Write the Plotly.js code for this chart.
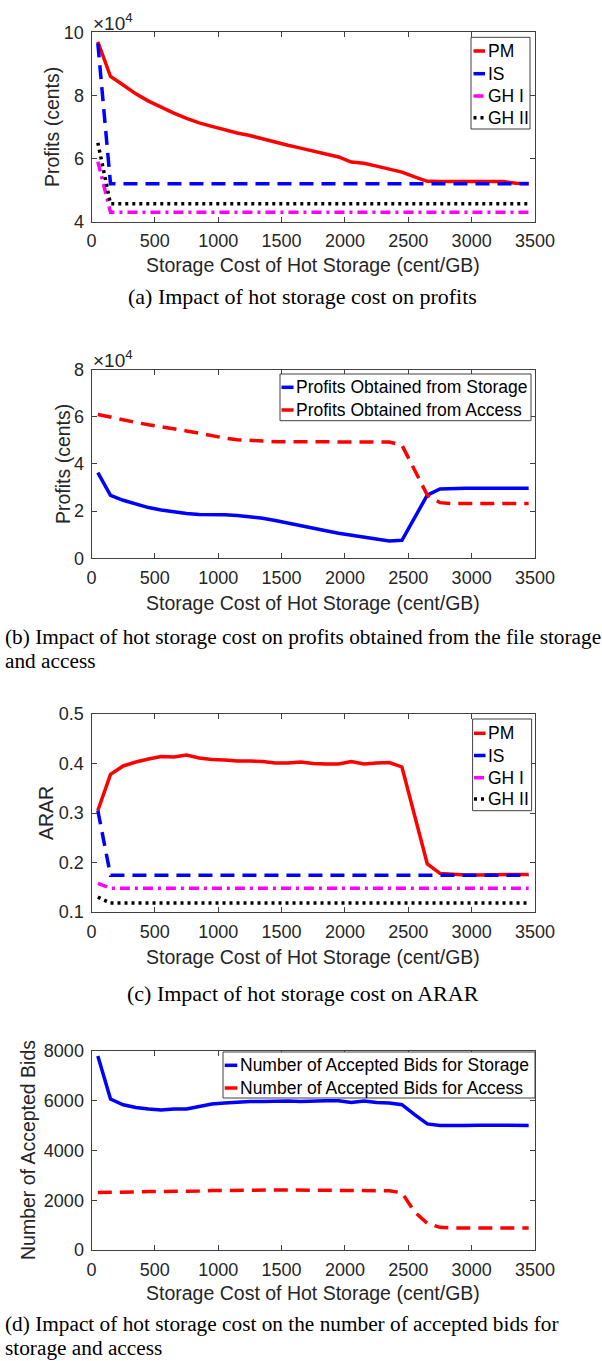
<!DOCTYPE html>
<html>
<head>
<meta charset="utf-8">
<script src="https://cdn.plot.ly/plotly-3.0.1.min.js"></script>
<style>html,body{margin:0;padding:0;background:#fff;}</style>
</head>
<body>
<div id="chart" style="width:602px;height:1361px;"></div>
<script>
// ---- data ----
const hotStorageCost = [50,150,250,350,450,550,650,750,850,950,1050,1150,1250,1350,1450,1550,1650,1750,1850,1950,2050,2150,2250,2350,2450,2550,2650,2750,2850,2950,3050,3150,3250,3350,3450];

// (a) profits (cents)
const profitPM   = [97000,86000,83300,80500,78200,76200,74400,72700,71300,70200,69100,68100,67300,66200,65100,64200,63300,62400,61400,60500,58900,58500,57600,56700,55700,54200,52800,52700,52700,52700,52800,52700,52700,52200,52100];
const profitIS   = [96500,52000,52000,52000,52000,52000,52000,52000,52000,52000,52000,52000,52000,52000,52000,52000,52000,52000,52000,52000,52000,52000,52000,52000,52000,52000,52000,52000,52000,52000,52000,52000,52000,52000,52000];
const profitGH1  = [59000,43000,43000,43000,43000,43000,43000,43000,43000,43000,43000,43000,43000,43000,43000,43000,43000,43000,43000,43000,43000,43000,43000,43000,43000,43000,43000,43000,43000,43000,43000,43000,43000,43000,43000];
const profitGH2  = [65000,45700,45700,45700,45700,45700,45700,45700,45700,45700,45700,45700,45700,45700,45700,45700,45700,45700,45700,45700,45700,45700,45700,45700,45700,45700,45700,45700,45700,45700,45700,45700,45700,45700,45700];

// (b) profits from storage / access (cents)
const profitStorage = [36300,26700,24600,23000,21500,20500,19700,19000,18600,18600,18500,18100,17600,17000,16000,15000,13800,12700,11700,10600,9700,8900,8000,7300,7600,17000,26800,29400,29700,29700,29700,29700,29700,29700,29700];
const profitAccess  = [61000,59800,58600,57600,56600,55800,54800,54000,53000,51900,51000,50300,50000,49600,49400,49400,49400,49400,49400,49300,49300,49300,49300,49300,48000,37500,26800,23600,23200,23200,23200,23200,23200,23200,23200];

// (c) ARAR
const ararPM  = [0.305,0.378,0.395,0.403,0.409,0.414,0.413,0.417,0.411,0.408,0.407,0.405,0.405,0.404,0.401,0.401,0.403,0.400,0.399,0.399,0.404,0.399,0.401,0.402,0.393,0.298,0.197,0.178,0.176,0.175,0.175,0.175,0.175,0.175,0.176];
const ararIS  = [0.305,0.174,0.174,0.174,0.174,0.174,0.174,0.174,0.174,0.174,0.174,0.174,0.174,0.174,0.174,0.174,0.174,0.174,0.174,0.174,0.174,0.174,0.174,0.174,0.174,0.174,0.174,0.174,0.174,0.174,0.174,0.174,0.174,0.174,0.174];
const ararGH1 = [0.158,0.148,0.148,0.148,0.148,0.148,0.148,0.148,0.148,0.148,0.148,0.148,0.148,0.148,0.148,0.148,0.148,0.148,0.148,0.148,0.148,0.148,0.148,0.148,0.148,0.148,0.148,0.148,0.148,0.148,0.148,0.148,0.148,0.148,0.148];
const ararGH2 = [0.130,0.118,0.118,0.118,0.118,0.118,0.118,0.118,0.118,0.118,0.118,0.118,0.118,0.118,0.118,0.118,0.118,0.118,0.118,0.118,0.118,0.118,0.118,0.118,0.118,0.118,0.118,0.118,0.118,0.118,0.118,0.118,0.118,0.118,0.118];

// (d) number of accepted bids
const bidsStorage = [7800,6070,5840,5730,5670,5630,5670,5670,5770,5870,5910,5950,5970,5970,5990,5990,5970,6000,6000,6000,5930,5990,5930,5910,5840,5440,5070,5010,5000,5000,5020,5010,5010,5010,5010];
const bidsAccess  = [2310,2310,2320,2330,2350,2350,2360,2360,2370,2390,2400,2410,2410,2410,2410,2410,2410,2410,2410,2410,2410,2400,2400,2380,2300,1530,1070,910,880,880,880,880,880,880,880];

// labels
const xTitle = "Storage Cost of Hot Storage (cent/GB)";
const xTicks = [0,500,1000,1500,2000,2500,3000,3500];
const namesA = ["PM","IS","GH I","GH II"];
const namesB = ["Profits Obtained from Storage","Profits Obtained from Access"];
const namesD = ["Number of Accepted Bids for Storage","Number of Accepted Bids for Access"];
const captions = [
  "(a) Impact of hot storage cost on profits",
  "(b) Impact of hot storage cost on profits obtained from the file storage",
  "and access",
  "(c) Impact of hot storage cost on ARAR",
  "(d) Impact of hot storage cost on the number of accepted bids for",
  "storage and access"
];

// ---- styles ----
const RED = "#ff0000", BLUE = "#0000ff", MAG = "#ff00ff", BLK = "#000000";
const LW = 3.5;
const DASH = "14px,8px", DASHDOT = "10px,5px,3px,5px", DOT = "3px,4px";
const AX = "#404040", TXT = "#262626";
const SANS = "Liberation Sans, Arial, sans-serif";
const SERIF = "Liberation Serif, Times New Roman, serif";

const H = 1361, W = 602;
const py = p => 1 - p / H;   // pixel row -> paper y
const px = p => p / W;       // pixel col -> paper x
const XDOM = [px(91.5), px(535)];

function tr(y, name, color, dash, n) {
  return {
    x: hotStorageCost, y: y, name: name, type: "scatter", mode: "lines",
    line: {color: color, width: LW, dash: dash},
    xaxis: "x" + (n === 1 ? "" : n), yaxis: "y" + (n === 1 ? "" : n),
    showlegend: false
  };
}

const data = [
  tr(profitPM, namesA[0], RED, "solid", 1),
  tr(profitIS, namesA[1], BLUE, DASH, 1),
  tr(profitGH1, namesA[2], MAG, DASHDOT, 1),
  tr(profitGH2, namesA[3], BLK, DOT, 1),
  tr(profitStorage, namesB[0], BLUE, "solid", 2),
  tr(profitAccess, namesB[1], RED, DASH, 2),
  tr(ararPM, namesA[0], RED, "solid", 3),
  tr(ararIS, namesA[1], BLUE, DASH, 3),
  tr(ararGH1, namesA[2], MAG, DASHDOT, 3),
  tr(ararGH2, namesA[3], BLK, DOT, 3),
  tr(bidsStorage, namesD[0], BLUE, "solid", 4),
  tr(bidsAccess, namesD[1], RED, DASH, 4)
];

function xa(anchor) {
  return {
    domain: XDOM, anchor: anchor, range: [0, 3500], tickmode: "array", tickvals: xTicks,
    ticks: "inside", ticklen: 5, tickwidth: 1, tickcolor: AX, mirror: "ticks",
    showline: true, linecolor: AX, linewidth: 1, showgrid: false, zeroline: false,
    tickfont: {family: SANS, size: 18, color: TXT}, ticklabelstandoff: 3, fixedrange: true
  };
}
function ya(anchor, dom, range, tickvals, ticktext) {
  return {
    domain: dom, anchor: anchor, range: range, tickmode: "array", tickvals: tickvals, ticktext: ticktext,
    ticks: "inside", ticklen: 5, tickwidth: 1, tickcolor: AX, mirror: "ticks",
    showline: true, linecolor: AX, linewidth: 1, showgrid: false, zeroline: false,
    tickfont: {family: SANS, size: 18, color: TXT}, ticklabelstandoff: 3, fixedrange: true
  };
}

function ann(text, xp, yp, opts) {
  return Object.assign({
    text: text, x: px(xp), y: py(yp), xref: "paper", yref: "paper",
    showarrow: false, xanchor: "center", yanchor: "middle",
    font: {family: SANS, size: 19.5, color: TXT}
  }, opts || {});
}

// ---- legend boxes (MATLAB style: short line sample, tight box) ----
const shapes = [];
const legendTexts = [];
function legendBox(x0, x1, y0, y1, names, colors, dashes, rowY, s0, s1, textX, fsize) {
  shapes.push({type: "rect", xref: "paper", yref: "paper", x0: px(x0), x1: px(x1), y0: py(y1), y1: py(y0),
    fillcolor: "#ffffff", line: {color: AX, width: 1}, layer: "above"});
  names.forEach((nm, i) => {
    shapes.push({type: "line", xref: "paper", yref: "paper", x0: px(s0), x1: px(s1), y0: py(rowY[i]), y1: py(rowY[i]),
      line: {color: colors[i], width: LW, dash: dashes[i]}, layer: "above"});
    legendTexts.push(ann(nm, textX, rowY[i], {xanchor: "left", font: {family: SANS, size: fsize, color: "#000"}}));
  });
}
legendBox(471, 530, 37.3, 129, namesA, [RED, BLUE, MAG, BLK], ["solid", DASH, DASHDOT, DOT], [51, 73.7, 96, 117.7], 473.5, 485, 485.5, 17.5);
legendBox(280, 531, 374, 420.7, namesB, [BLUE, RED], ["solid", DASH], [387.3, 410], 281.5, 293.5, 294, 17.5);
legendBox(472.6, 531.6, 719, 810.7, namesA, [RED, BLUE, MAG, BLK], ["solid", DASH, DASHDOT, DOT], [733.3, 755.5, 777.7, 799], 474, 485.5, 486, 17.5);
legendBox(223, 535, 1052, 1098, namesD, [BLUE, RED], ["solid", DASH], [1065.3, 1088], 224.7, 237.3, 238, 17.5);

const serif = {family: SERIF, size: 22, color: "#000"};
const serifSm = {family: SERIF, size: 21.3, color: "#000"};
const annotations = [
  // exponent labels
  ann("×10<sup>4</sup>", 91, 22, {xanchor: "left", font: {family: SANS, size: 19, color: TXT}}),
  ann("×10<sup>4</sup>", 91, 358.5, {xanchor: "left", font: {family: SANS, size: 19, color: TXT}}),
  // y titles
  ann("Profits (cents)", 52, 127, {textangle: -90}),
  ann("Profits (cents)", 63, 464, {textangle: -90}),
  ann("ARAR", 46, 813, {textangle: -90}),
  ann("Number of Accepted Bids", 28, 1150, {textangle: -90}),
  // x titles
  ann(xTitle, 313, 264.5),
  ann(xTitle, 313, 603),
  ann(xTitle, 313, 957),
  ann(xTitle, 313, 1293),
  // captions
  ann(captions[0], 302, 297, {font: serif}),
  ann(captions[1], 3, 637, {font: serifSm, xanchor: "left"}),
  ann(captions[2], 3, 661, {font: serifSm, xanchor: "left"}),
  ann(captions[3], 303, 993, {font: serif}),
  ann(captions[4], 3, 1324, {font: serifSm, xanchor: "left"}),
  ann(captions[5], 3, 1348, {font: serifSm, xanchor: "left"})
].concat(legendTexts);

const layout = {
  width: W, height: H, autosize: false,
  margin: {l: 0, r: 0, t: 0, b: 0},
  paper_bgcolor: "#ffffff", plot_bgcolor: "#ffffff",
  font: {family: SANS, color: TXT},
  showlegend: false,
  xaxis: xa("y"), xaxis2: xa("y2"), xaxis3: xa("y3"), xaxis4: xa("y4"),
  yaxis: ya("x", [py(221.7), py(32.3)], [40000, 100000], [40000, 60000, 80000, 100000], ["4", "6", "8", "10"]),
  yaxis2: ya("x2", [py(558.3), py(369.6)], [0, 80000], [0, 20000, 40000, 60000, 80000], ["0", "2", "4", "6", "8"]),
  yaxis3: ya("x3", [py(912), py(714)], [0.1, 0.5], [0.1, 0.2, 0.3, 0.4, 0.5], ["0.1", "0.2", "0.3", "0.4", "0.5"]),
  yaxis4: ya("x4", [py(1250), py(1051)], [0, 8000], [0, 2000, 4000, 6000, 8000], ["0", "2000", "4000", "6000", "8000"]),
  shapes: shapes,
  annotations: annotations
};

Plotly.newPlot("chart", data, layout, {displayModeBar: false, staticPlot: true});
</script>
</body>
</html>
